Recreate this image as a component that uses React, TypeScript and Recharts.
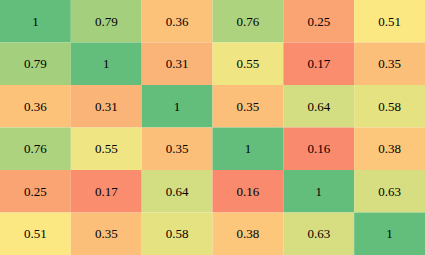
import React from 'react';
import { ScatterChart, Scatter, XAxis, YAxis } from 'recharts';

const variables = ['V1', 'V2', 'V3', 'V4', 'V5', 'V6'];

const rowV1 = [1, 0.79, 0.36, 0.76, 0.25, 0.51];
const rowV2 = [0.79, 1, 0.31, 0.55, 0.17, 0.35];
const rowV3 = [0.36, 0.31, 1, 0.35, 0.64, 0.58];
const rowV4 = [0.76, 0.55, 0.35, 1, 0.16, 0.38];
const rowV5 = [0.25, 0.17, 0.64, 0.16, 1, 0.63];
const rowV6 = [0.51, 0.35, 0.58, 0.38, 0.63, 1];

const matrix = [rowV1, rowV2, rowV3, rowV4, rowV5, rowV6];

const W = 425;
const H = 255;
const cellW = W / variables.length;
const cellH = H / variables.length;

// red -> yellow -> green, like a spreadsheet colour scale
const stops: [number, number[]][] = [
  [0.16, [249, 138, 109]],
  [0.5, [254, 233, 131]],
  [1, [99, 190, 123]],
];

const colorFor = (v: number) => {
  let i = 0;
  while (i < stops.length - 2 && v > stops[i + 1][0]) i++;
  const [a, ca] = stops[i];
  const [b, cb] = stops[i + 1];
  const t = Math.max(0, Math.min(1, (v - a) / (b - a)));
  const c = ca.map((x, k) => Math.round(x + (cb[k] - x) * t));
  return `rgb(${c[0]},${c[1]},${c[2]})`;
};

const cells = matrix.flatMap((row, r) =>
  row.map((value, c) => ({ x: c, y: r, value }))
);

const Cell = (props: any) => {
  const { cx, cy, payload } = props;
  return (
    <g>
      <rect
        x={cx - cellW / 2}
        y={cy - cellH / 2}
        width={cellW}
        height={cellH}
        fill={colorFor(payload.value)}
      />
      <text
        x={cx}
        y={cy}
        textAnchor="middle"
        dominantBaseline="central"
        style={{ fontFamily: '"Liberation Serif", "Times New Roman", serif', fontSize: 13 }}
        fill="#000"
      >
        {payload.value}
      </text>
    </g>
  );
};

export default function App() {
  return (
    <div style={{ position: 'absolute', left: 0, top: 0 }}>
      <ScatterChart width={W} height={H} margin={{ top: 0, right: 0, bottom: 0, left: 0 }}>
        <XAxis type="number" dataKey="x" domain={[-0.5, 5.5]} hide />
        <YAxis type="number" dataKey="y" domain={[-0.5, 5.5]} reversed hide />
        <Scatter data={cells} shape={<Cell />} isAnimationActive={false} />
      </ScatterChart>
    </div>
  );
}
